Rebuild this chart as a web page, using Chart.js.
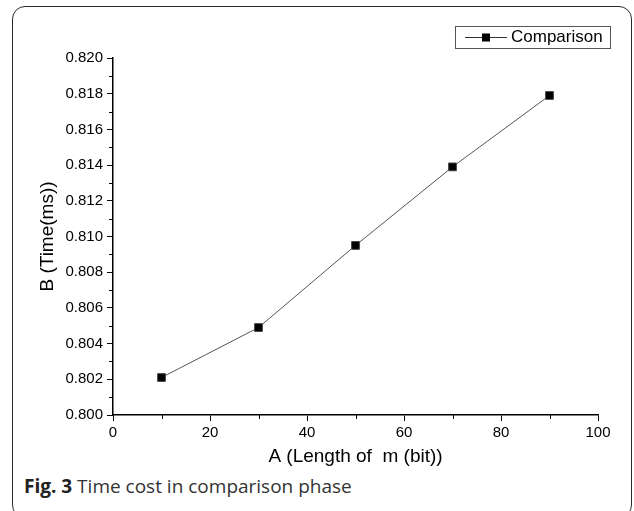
<!DOCTYPE html>
<html>
<head>
<meta charset="utf-8">
<script src="https://cdn.jsdelivr.net/npm/chart.js@4.4.0/dist/chart.umd.min.js"></script>
<style>
  html, body { margin: 0; padding: 0; background: #fff; }
  #wrap { position: relative; width: 634px; height: 511px; overflow: hidden; }
  #frame { position: absolute; left: 12px; top: 6px; width: 620px; height: 512px;
           border: 1.5px solid #2b2b2b; border-radius: 13px; box-sizing: border-box; }
  #chart { position: absolute; left: 0; top: 0; }
  #caption { position: absolute; left: 24px; top: 473px; font-family: "Open Sans", sans-serif;
             font-size: 19px; color: #333; white-space: nowrap; }
  #caption b { color: #222; }
</style>
</head>
<body>
<div id="wrap">
  <div id="frame"></div>
  <canvas id="chart" width="634" height="470"></canvas>
  <div id="caption"><b>Fig. 3</b> Time cost in comparison phase</div>
</div>
<script>
var xValues = [10, 30, 50, 70, 90];
var yValues = [0.8021, 0.8049, 0.8095, 0.8139, 0.8179];
var seriesLabel = 'Comparison';
var xMinorTicks = [10, 30, 50, 70, 90];
var yMinorTicks = [0.801, 0.803, 0.805, 0.807, 0.809, 0.811, 0.813, 0.815, 0.817, 0.819];

var axisFont = { family: '"Liberation Sans", Arial, sans-serif', size: 15 };
var titleFont = { family: '"Liberation Sans", Arial, sans-serif', size: 19 };

// short unlabeled ticks between the labeled ones
var minorTicks = {
  id: 'minorTicks',
  afterDraw: function(chart) {
    var ctx = chart.ctx, xs = chart.scales.x, ys = chart.scales.y;
    ctx.save();
    ctx.strokeStyle = '#000';
    ctx.lineWidth = 1;
    ctx.beginPath();
    xMinorTicks.forEach(function(v) {
      var px = Math.round(xs.getPixelForValue(v)) + 0.5;
      ctx.moveTo(px, xs.top);
      ctx.lineTo(px, xs.top + 4);
    });
    yMinorTicks.forEach(function(v) {
      var py = Math.round(ys.getPixelForValue(v)) + 0.5;
      ctx.moveTo(ys.right, py);
      ctx.lineTo(ys.right - 4, py);
    });
    ctx.stroke();
    ctx.restore();
  }
};

// boxed legend, top right, line-square-line sample
var boxLegend = {
  id: 'boxLegend',
  afterDraw: function(chart) {
    var ctx = chart.ctx;
    var ds = chart.data.datasets[0];
    var x = 455, y = 26, w = 155, h = 22;
    ctx.save();
    ctx.strokeStyle = '#555';
    ctx.lineWidth = 1;
    ctx.strokeRect(x + 0.5, y + 0.5, w, h);
    var cy = y + h / 2 + 0.5;
    ctx.strokeStyle = '#333';
    ctx.beginPath();
    ctx.moveTo(x + 10, cy);
    ctx.lineTo(x + 52, cy);
    ctx.stroke();
    ctx.fillStyle = ds.pointBackgroundColor;
    ctx.fillRect(x + 27, cy - 4, 8, 8);
    ctx.fillStyle = '#000';
    ctx.font = '17px "Liberation Sans", Arial, sans-serif';
    ctx.textBaseline = 'middle';
    ctx.fillText(ds.label, x + 56, cy);
    ctx.restore();
  }
};

var ctx = document.getElementById('chart');
new Chart(ctx, {
  type: 'line',
  data: {
    labels: xValues,
    datasets: [{
      label: seriesLabel,
      data: xValues.map(function(x, i) { return { x: x, y: yValues[i] }; }),
      borderColor: '#555',
      borderWidth: 1,
      pointStyle: 'rect',
      pointRadius: 5.5,
      pointBackgroundColor: '#000',
      pointBorderColor: '#444',
      pointBorderWidth: 1,
      fill: false,
      tension: 0
    }]
  },
  options: {
    responsive: false,
    animation: false,
    devicePixelRatio: 1,
    layout: { padding: { top: 58, right: 36, left: 0, bottom: 0 } },
    plugins: {
      legend: { display: false },
      tooltip: { enabled: false }
    },
    scales: {
      x: {
        type: 'linear',
        min: 0,
        max: 100,
        afterFit: function(s) { s.height = 55; },
        ticks: { stepSize: 20, color: '#000', font: axisFont, padding: 3, maxRotation: 0 },
        grid: { drawOnChartArea: false, tickLength: 6, tickColor: '#000' },
        border: { color: '#000', width: 1.5 },
        title: { display: true, text: 'A (Length of  m (bit))', color: '#000', font: titleFont,
                 padding: { top: 0, bottom: 2 } }
      },
      y: {
        min: 0.8,
        max: 0.82,
        afterFit: function(s) { s.width = 113; },
        ticks: { stepSize: 0.002, color: '#000', font: axisFont, padding: 4,
                 callback: function(v) { return v.toFixed(3); } },
        grid: { drawOnChartArea: false, tickLength: 6, tickColor: '#000' },
        border: { color: '#000', width: 1.5 },
        title: { display: true, text: 'B (Time(ms))', color: '#000', font: titleFont,
                 padding: { top: 36, bottom: 0 } }
      }
    }
  },
  plugins: [minorTicks, boxLegend]
});
</script>
</body>
</html>
